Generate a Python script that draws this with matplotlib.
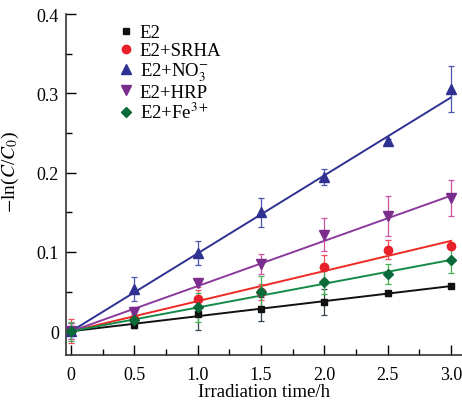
import numpy as np
import matplotlib
matplotlib.use("Agg")
import matplotlib.pyplot as plt

plt.rcParams.update({"font.family": "Liberation Serif", "mathtext.fontset": "stix",
                     "font.size": 13})

# irradiation time (h)
t = [0, 0.5, 1.0, 1.5, 2.0, 2.5, 3.0]

# -ln(C/C0) per system, with error bars
e2 = [0.0, 0.008, 0.022, 0.028, 0.037, 0.048, 0.057]
e2_err = [0.005, 0.004, 0.020, 0.015, 0.016, 0.003, 0.003]
srha = [0.0, 0.016, 0.041, 0.050, 0.081, 0.103, 0.107]
srha_err = [0.015, 0.008, 0.011, 0.010, 0.015, 0.012, 0.003]
no3 = [0.0, 0.053, 0.099, 0.150, 0.195, 0.240, 0.306]
no3_err = [0.010, 0.015, 0.015, 0.018, 0.010, 0.003, 0.029]
hrp = [0.0, 0.024, 0.061, 0.085, 0.122, 0.145, 0.168]
hrp_err = [0.010, 0.006, 0.005, 0.0125, 0.021, 0.025, 0.023]
fe = [0.0, 0.014, 0.030, 0.050, 0.062, 0.072, 0.090]
fe_err = [0.012, 0.008, 0.018, 0.020, 0.015, 0.013, 0.017]

# slopes of the fitted first-order lines (h^-1)
k_fit = [0.019, 0.038, 0.0983, 0.057, 0.030]

labels = ["E2", "E2+SRHA", "E2+NO$_3^{-}$", "E2+HRP", "E2+Fe$^{3+}$"]
series = [e2, srha, no3, hrp, fe]
errs = [e2_err, srha_err, no3_err, hrp_err, fe_err]
markers = ["s", "o", "^", "v", "D"]
msizes = [5, 6, 6.5, 6.5, 5]
mcol = ["#111111", "#e8202a", "#2e3192", "#7b2d8e", "#0b6a3a"]
lcol = ["#111111", "#ee2a24", "#2e3192", "#8b3a9c", "#138a48"]
ecol = ["#33444f", "#ee4a60", "#4a55b0", "#d050a0", "#40b050"]

fig = plt.figure(figsize=(4.62, 4.06), dpi=100)
ax = fig.add_axes([0.143, 0.123, 0.857, 0.840])

tt = np.array([0, 3.0])
for y, e, m, ms, mc, lc, ec, k, lab in zip(series, errs, markers, msizes,
                                            mcol, lcol, ecol, k_fit, labels):
    ax.plot(tt, k * tt, color=lc, lw=1.4, zorder=2)
    ax.errorbar(t, y, yerr=e, fmt="none", ecolor=ec, elinewidth=0.9,
                capsize=2.5, capthick=0.9, zorder=3)
    ax.plot(t, y, ls="none", marker=m, ms=ms, color=mc, label=lab, zorder=4)

ax.set_xlim(-0.04, 3.086)
ax.set_ylim(-0.03, 0.4)
ax.set_xticks([0, 0.5, 1.0, 1.5, 2.0, 2.5, 3.0])
ax.set_xticklabels(["0", "0.5", "1.0", "1.5", "2.0", "2.5", "3.0"])
ax.set_yticks([0, 0.1, 0.2, 0.3, 0.4])
ax.set_yticklabels(["0", "0.1", "0.2", "0.3", "0.4"])
ax.set_xticks(np.arange(0.25, 3.0, 0.5), minor=True)
ax.set_yticks([0.05, 0.15, 0.25, 0.35], minor=True)
ax.tick_params(direction="in", length=7, width=1, labelsize=13)
ax.tick_params(axis="x", pad=8)
ax.tick_params(axis="y", pad=5)
ax.tick_params(which="minor", direction="in", length=4, width=1)
for s in ["top", "right"]:
    ax.spines[s].set_visible(False)
for s in ["left", "bottom"]:
    ax.spines[s].set_linewidth(1.2)
    ax.spines[s].set_color("#333333")

ax.set_xlabel("Irradiation time/h", fontsize=13.5, labelpad=0)
ax.set_ylabel(r"$-$ln($C$/$C_0$)", fontsize=14)
ax.yaxis.set_label_coords(-0.115, 0.54)

ax.legend(loc="upper left", bbox_to_anchor=(0.11, 0.992), frameon=False,
          fontsize=13.5, handletextpad=0.2, labelspacing=0.05,
          handlelength=1.0, borderaxespad=0)

fig.savefig("out.png", dpi=100)
